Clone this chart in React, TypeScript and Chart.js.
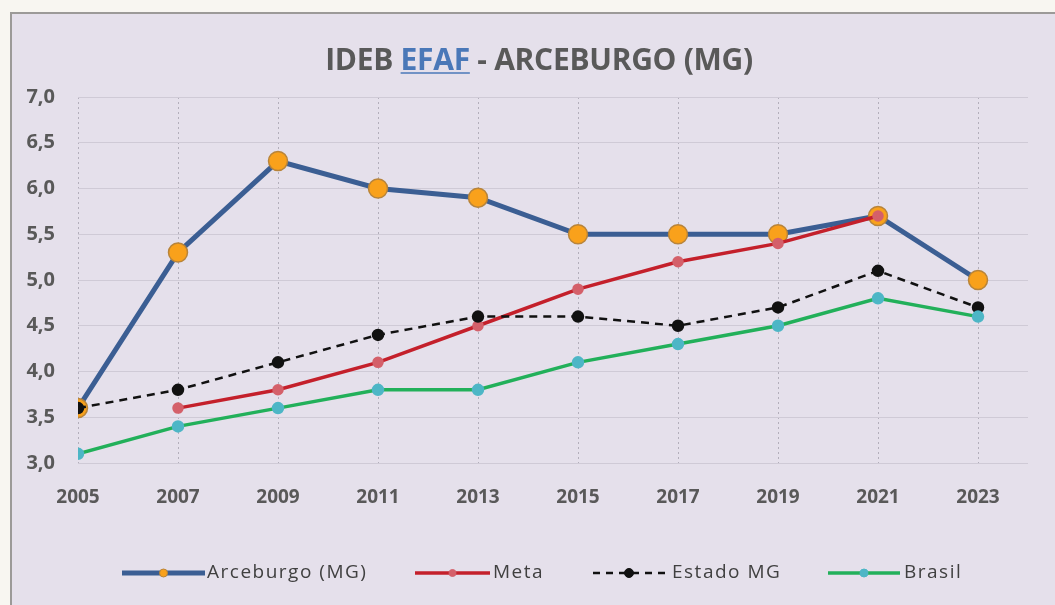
import React, { useEffect, useRef } from "react";
import { Chart, registerables } from "chart.js";

Chart.register(...registerables);

const years = [2005, 2007, 2009, 2011, 2013, 2015, 2017, 2019, 2021, 2023];
const arceburgo = [3.6, 5.3, 6.3, 6.0, 5.9, 5.5, 5.5, 5.5, 5.7, 5.0];
const meta: (number | null)[] = [null, 3.6, 3.8, 4.1, 4.5, 4.9, 5.2, 5.4, 5.7, null];
const estadoMG = [3.6, 3.8, 4.1, 4.4, 4.6, 4.6, 4.5, 4.7, 5.1, 4.7];
const brasil = [3.1, 3.4, 3.6, 3.8, 3.8, 4.1, 4.3, 4.5, 4.8, 4.6];
const yTicks = [3.0, 3.5, 4.0, 4.5, 5.0, 5.5, 6.0, 6.5, 7.0];

const titleParts = ["IDEB ", "EFAF", " - ARCEBURGO (MG)"];
const seriesNames = ["Arceburgo (MG)", "Meta", "Estado MG", "Brasil"];

const FONT = "'Open Sans', 'DejaVu Sans', sans-serif";
const TEXT_GRAY = "#595959";

const C = {
  blue: "#3b5e93",
  orange: "#f9a11b",
  orangeBorder: "#b8843a",
  red: "#c4202b",
  redMarker: "#d4606a",
  black: "#111111",
  green: "#22b05a",
  cyan: "#4db6c6",
};

const toPts = (arr: (number | null)[]) =>
  arr
    .map((v, i) => (v === null ? null : { x: years[i], y: v }))
    .filter((p) => p !== null) as { x: number; y: number }[];

const framePlugin = {
  id: "frame",
  beforeDraw(chart: any) {
    const ctx = chart.ctx;
    ctx.save();
    ctx.fillStyle = "#f8f6f1";
    ctx.fillRect(0, 0, chart.width, chart.height);
    ctx.fillStyle = "#e5e0eb";
    ctx.fillRect(11, 13, chart.width, chart.height);
    ctx.strokeStyle = "#9c9a98";
    ctx.lineWidth = 2;
    ctx.beginPath();
    ctx.moveTo(11, chart.height + 5);
    ctx.lineTo(11, 13);
    ctx.lineTo(chart.width + 5, 13);
    ctx.stroke();
    ctx.restore();
  },
};

const titlePlugin = {
  id: "customTitle",
  afterDraw(chart: any) {
    const ctx = chart.ctx;
    ctx.save();
    ctx.font = `bold 30px ${FONT}`;
    ctx.textBaseline = "alphabetic";
    ctx.textAlign = "left";
    (ctx as any).letterSpacing = "-0.3px";
    const widths = titleParts.map((t) => ctx.measureText(t).width);
    const total = widths.reduce((a, b) => a + b, 0);
    let x = 539 - total / 2;
    const y = 70;
    titleParts.forEach((t, i) => {
      ctx.fillStyle = i === 1 ? "#4a78b8" : TEXT_GRAY;
      ctx.fillText(t, x, y);
      if (i === 1) {
        ctx.strokeStyle = "#4a78b8";
        ctx.lineWidth = 1.5;
        ctx.beginPath();
        ctx.moveTo(x, y + 3);
        ctx.lineTo(x + widths[i], y + 3);
        ctx.stroke();
      }
      x += widths[i];
    });
    ctx.restore();
  },
};

const legendPlugin = {
  id: "customLegend",
  afterDraw(chart: any) {
    const ctx = chart.ctx;
    const y = 573;
    const items = [
      { x0: 122, x1: 205, tx: 207, color: C.blue, w: 5, dash: [] as number[], mFill: C.orange, mStroke: C.orangeBorder, r: 4 },
      { x0: 415, x1: 490, tx: 493, color: C.red, w: 3.5, dash: [], mFill: C.redMarker, mStroke: C.redMarker, r: 3.5 },
      { x0: 593, x1: 665, tx: 672, color: C.black, w: 2.5, dash: [7, 6], mFill: C.black, mStroke: C.black, r: 4.5 },
      { x0: 828, x1: 900, tx: 904, color: C.green, w: 3.5, dash: [], mFill: C.cyan, mStroke: C.cyan, r: 4 },
    ];
    ctx.save();
    items.forEach((it, i) => {
      ctx.strokeStyle = it.color;
      ctx.lineWidth = it.w;
      ctx.setLineDash(it.dash);
      ctx.beginPath();
      ctx.moveTo(it.x0, y);
      ctx.lineTo(it.x1, y);
      ctx.stroke();
      ctx.setLineDash([]);
      ctx.fillStyle = it.mFill;
      ctx.strokeStyle = it.mStroke;
      ctx.lineWidth = 1;
      ctx.beginPath();
      ctx.arc((it.x0 + it.x1) / 2, y, it.r, 0, Math.PI * 2);
      ctx.fill();
      ctx.stroke();
      ctx.fillStyle = "#404040";
      ctx.font = `19px ${FONT}`;
      (ctx as any).letterSpacing = "1.5px";
      ctx.textBaseline = "middle";
      ctx.textAlign = "left";
      ctx.fillText(seriesNames[i], it.tx, y);
    });
    ctx.restore();
  },
};

export default function App() {
  const ref = useRef<HTMLCanvasElement>(null);

  useEffect(() => {
    if (!ref.current) return;
    const chart = new Chart(ref.current, {
      type: "line",
      data: {
        datasets: [
          {
            label: seriesNames[0],
            data: toPts(arceburgo),
            borderColor: C.blue,
            borderWidth: 5,
            pointRadius: 9.5,
            pointBackgroundColor: C.orange,
            pointBorderColor: C.orangeBorder,
            pointBorderWidth: 1.5,
            order: 4,
          },
          {
            label: seriesNames[1],
            data: toPts(meta),
            borderColor: C.red,
            borderWidth: 3.5,
            pointRadius: 4,
            pointBackgroundColor: C.redMarker,
            pointBorderColor: C.redMarker,
            order: 3,
          },
          {
            label: seriesNames[2],
            data: toPts(estadoMG),
            borderColor: C.black,
            borderWidth: 2.5,
            borderDash: [8, 6],
            pointRadius: 5,
            pointBackgroundColor: C.black,
            pointBorderColor: C.black,
            order: 2,
          },
          {
            label: seriesNames[3],
            data: toPts(brasil),
            borderColor: C.green,
            borderWidth: 3.5,
            pointRadius: 4.5,
            pointBackgroundColor: C.cyan,
            pointBorderColor: C.cyan,
            order: 1,
          },
        ],
      },
      options: {
        responsive: false,
        animation: false,
        layout: { padding: { top: 97, bottom: 92, left: 0, right: 27 } },
        plugins: {
          legend: { display: false },
          title: { display: false },
          tooltip: { enabled: false },
        },
        scales: {
          x: {
            type: "linear",
            min: 2005,
            max: 2024,
            afterBuildTicks: (scale: any) => {
              scale.ticks = years.map((v) => ({ value: v }));
            },
            afterFit: (scale: any) => {
              scale.height = 50;
            },
            ticks: {
              autoSkip: false,
              maxRotation: 0,
              padding: 23,
              color: TEXT_GRAY,
              font: { family: FONT, size: 19, weight: "bold" },
              callback: (v: any) => String(v),
            },
            grid: {
              drawTicks: false,
              color: "#b3afbb",
              lineWidth: 1,
            },
            border: { display: false, dash: [2, 3] },
          },
          y: {
            min: 3,
            max: 7,
            afterBuildTicks: (scale: any) => {
              scale.ticks = yTicks.map((v) => ({ value: v }));
            },
            afterFit: (scale: any) => {
              scale.width = 78;
            },
            ticks: {
              padding: 23,
              color: TEXT_GRAY,
              font: { family: FONT, size: 20, weight: "bold" },
              callback: (v: any) => Number(v).toFixed(1).replace(".", ","),
            },
            grid: {
              drawTicks: false,
              color: "#cfcad6",
              lineWidth: 1,
            },
            border: { display: false },
          },
        },
      } as any,
      plugins: [framePlugin, titlePlugin, legendPlugin],
    });
    return () => chart.destroy();
  }, []);

  return (
    <div style={{ position: "fixed", left: 0, top: 0, width: 1055, height: 605 }}>
      <canvas ref={ref} width={1055} height={605} />
    </div>
  );
}
